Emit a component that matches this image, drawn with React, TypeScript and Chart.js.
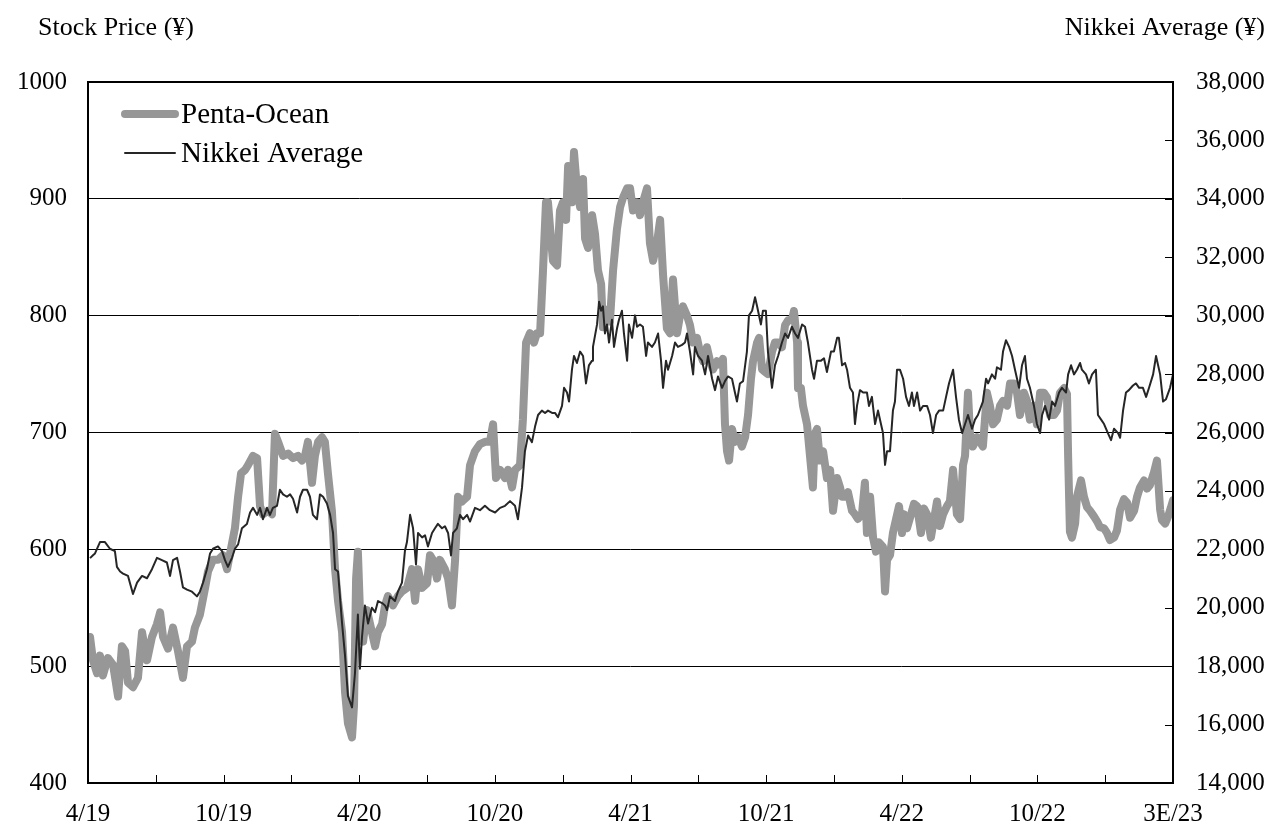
import { useEffect, useRef } from 'react';
import { Chart, registerables } from 'chart.js';

Chart.register(...registerables);

const FONT = "'Liberation Serif', 'Times New Roman', Times, serif";

// Axis / legend texts
const leftTitle = 'Stock Price (¥)';
const rightTitle = 'Nikkei Average (¥)';
const seriesNames = ['Penta-Ocean', 'Nikkei Average'];
// x tick labels every 6 months (months since 4/2019: 0, 6, ..., 48)
const xLabels = ['4/19', '10/19', '4/20', '10/20', '4/21', '10/21', '4/22', '10/22', '3E/23'];

// Penta-Ocean stock price: time in months since April 2019, price in yen
const pentaMonths = [
  0.09, 0.22, 0.40, 0.53, 0.66, 0.88, 1.11, 1.33, 1.50, 1.64,
  1.77, 1.99, 2.21, 2.39, 2.61, 2.83, 3.05, 3.19, 3.32, 3.54,
  3.76, 3.98, 4.20, 4.38, 4.60, 4.73, 4.95, 5.18, 5.31, 5.53,
  5.75, 5.97, 6.15, 6.37, 6.50, 6.64, 6.77, 6.95, 7.08, 7.30,
  7.48, 7.61, 7.74, 7.96, 8.14, 8.27, 8.41, 8.63, 8.85, 9.07,
  9.29, 9.47, 9.60, 9.73, 9.91, 10.04, 10.18, 10.35, 10.48, 10.62,
  10.79, 10.93, 11.06, 11.24, 11.37, 11.50, 11.68, 11.77, 11.86, 11.94,
  12.03, 12.17, 12.34, 12.48, 12.70, 12.83, 13.01, 13.14, 13.27, 13.49,
  13.71, 13.89, 14.11, 14.33, 14.47, 14.60, 14.78, 15.00, 15.13, 15.26,
  15.44, 15.57, 15.79, 15.93, 16.10, 16.24, 16.37, 16.55, 16.77, 16.90,
  17.12, 17.34, 17.56, 17.78, 17.92, 18.05, 18.23, 18.45, 18.58, 18.76,
  18.89, 19.11, 19.24, 19.38, 19.55, 19.73, 19.86, 20.00, 20.13, 20.26,
  20.35, 20.48, 20.57, 20.75, 20.88, 21.01, 21.15, 21.24, 21.41, 21.50,
  21.63, 21.77, 21.90, 21.99, 22.12, 22.30, 22.43, 22.56, 22.70, 22.78,
  22.96, 23.09, 23.23, 23.40, 23.54, 23.67, 23.85, 23.98, 24.11, 24.29,
  24.42, 24.55, 24.73, 24.86, 25.00, 25.17, 25.31, 25.44, 25.61, 25.75,
  25.88, 26.06, 26.19, 26.32, 26.50, 26.63, 26.77, 26.94, 27.07, 27.21,
  27.38, 27.52, 27.65, 27.83, 27.96, 28.09, 28.18, 28.27, 28.36, 28.49,
  28.62, 28.76, 28.93, 29.07, 29.20, 29.33, 29.42, 29.60, 29.69, 29.82,
  29.95, 30.08, 30.26, 30.39, 30.53, 30.70, 30.84, 30.97, 31.14, 31.23,
  31.37, 31.41, 31.54, 31.63, 31.81, 31.94, 32.07, 32.16, 32.25, 32.38,
  32.52, 32.69, 32.83, 32.96, 33.14, 33.27, 33.36, 33.49, 33.62, 33.80,
  33.93, 34.06, 34.24, 34.37, 34.46, 34.60, 34.73, 34.86, 34.99, 35.17,
  35.26, 35.35, 35.48, 35.61, 35.75, 35.88, 36.01, 36.10, 36.23, 36.41,
  36.54, 36.68, 36.85, 36.98, 37.12, 37.29, 37.43, 37.56, 37.69, 37.83,
  38.00, 38.13, 38.27, 38.44, 38.58, 38.71, 38.80, 38.93, 39.02, 39.15,
  39.33, 39.46, 39.59, 39.77, 39.90, 40.04, 40.21, 40.35, 40.48, 40.66,
  40.79, 40.97, 41.10, 41.23, 41.41, 41.54, 41.67, 41.85, 41.98, 42.12,
  42.29, 42.43, 42.56, 42.74, 42.87, 43.00, 43.18, 43.31, 43.36, 43.44,
  43.53, 43.67, 43.75, 43.93, 44.06, 44.20, 44.33, 44.51, 44.64, 44.77,
  44.95, 45.08, 45.21, 45.39, 45.52, 45.66, 45.83, 45.97, 46.10, 46.28,
  46.41, 46.54, 46.72, 46.85, 46.98, 47.16, 47.29, 47.43, 47.51, 47.65,
  47.78, 47.91, 48.00,
];
const pentaPrice = [
  525, 505, 494, 509, 492, 507, 501, 474, 517, 513,
  486, 482, 490, 529, 505, 525, 536, 546, 525, 515,
  533, 513, 490, 517, 521, 533, 544, 567, 581, 591,
  591, 595, 583, 605, 618, 645, 665, 668, 672, 680,
  678, 637, 630, 633, 630, 699, 692, 680, 682, 678,
  680, 676, 680, 692, 657, 680, 692, 696, 692, 664,
  633, 583, 556, 529, 478, 451, 439, 467, 575, 598,
  548, 521, 548, 536, 517, 529, 536, 552, 560, 552,
  560, 564, 567, 583, 556, 583, 567, 571, 595, 591,
  575, 591, 583, 575, 552, 591, 645, 641, 645, 672,
  684, 690, 692, 692, 707, 661, 668, 661, 668, 653,
  668, 672, 711, 777, 785, 777, 785, 785, 839, 897,
  897, 866, 847, 843, 890, 897, 882, 928, 897, 940,
  909, 893, 917, 866, 858, 886, 870, 839, 827, 790,
  805, 795, 839, 874, 893, 901, 909, 909, 890, 897,
  886, 897, 909, 862, 847, 862, 882, 835, 789, 785,
  831, 785, 800, 808, 800, 792, 777, 781, 769, 761,
  773, 761, 754, 761, 758, 763, 707, 684, 676, 703,
  692, 696, 688, 696, 715, 746, 761, 777, 781, 754,
  752, 750, 769, 777, 777, 773, 792, 796, 796, 804,
  777, 738, 738, 723, 707, 680, 653, 699, 703, 676,
  684, 661, 668, 633, 661, 653, 645, 645, 649, 633,
  630, 626, 630, 657, 614, 645, 610, 598, 606, 602,
  564, 591, 595, 614, 626, 637, 614, 630, 618, 630,
  639, 637, 614, 635, 630, 610, 626, 641, 620, 630,
  637, 641, 668, 630, 626, 672, 680, 734, 699, 688,
  696, 692, 688, 734, 723, 707, 711, 723, 727, 723,
  742, 742, 734, 715, 734, 727, 711, 723, 707, 734,
  734, 730, 715, 715, 719, 734, 738, 733, 680, 615,
  610, 622, 645, 659, 645, 636, 633, 628, 624, 619,
  618, 614, 608, 610, 616, 634, 643, 640, 627, 633,
  645, 653, 659, 652, 655, 666, 676, 634, 625, 622,
  628, 636, 642,
];

// Nikkei Average: time in months since April 2019, index in yen
const nikkeiMonths = [
  0.09, 0.22, 0.31, 0.53, 0.75, 0.97, 1.19, 1.28, 1.42, 1.55,
  1.77, 1.99, 2.17, 2.39, 2.61, 2.83, 3.05, 3.27, 3.49, 3.63,
  3.76, 3.94, 4.07, 4.20, 4.38, 4.60, 4.82, 4.95, 5.09, 5.26,
  5.40, 5.53, 5.75, 5.93, 6.06, 6.19, 6.37, 6.50, 6.64, 6.81,
  7.03, 7.17, 7.30, 7.48, 7.61, 7.74, 7.92, 8.05, 8.18, 8.36,
  8.49, 8.63, 8.80, 8.94, 9.07, 9.25, 9.38, 9.51, 9.69, 9.82,
  9.95, 10.13, 10.26, 10.40, 10.57, 10.71, 10.84, 10.93, 11.06, 11.24,
  11.37, 11.50, 11.68, 11.81, 11.94, 12.03, 12.12, 12.25, 12.39, 12.56,
  12.70, 12.83, 13.01, 13.14, 13.23, 13.36, 13.58, 13.71, 13.89, 14.02,
  14.11, 14.25, 14.38, 14.51, 14.60, 14.78, 14.91, 15.04, 15.22, 15.35,
  15.48, 15.66, 15.79, 15.93, 16.06, 16.15, 16.32, 16.46, 16.59, 16.77,
  16.90, 17.12, 17.34, 17.56, 17.78, 18.01, 18.23, 18.45, 18.67, 18.89,
  19.02, 19.20, 19.33, 19.47, 19.64, 19.78, 19.91, 20.08, 20.22, 20.35,
  20.53, 20.66, 20.79, 20.97, 21.06, 21.19, 21.28, 21.41, 21.50, 21.63,
  21.77, 21.90, 22.03, 22.16, 22.30, 22.34, 22.52, 22.61, 22.70, 22.78,
  22.87, 22.96, 23.05, 23.18, 23.27, 23.40, 23.49, 23.62, 23.71, 23.85,
  23.93, 24.07, 24.20, 24.29, 24.42, 24.55, 24.69, 24.77, 24.95, 25.08,
  25.22, 25.35, 25.44, 25.57, 25.66, 25.84, 25.97, 26.10, 26.28, 26.41,
  26.50, 26.63, 26.77, 26.85, 26.99, 27.16, 27.30, 27.43, 27.61, 27.74,
  27.87, 28.05, 28.18, 28.31, 28.49, 28.62, 28.71, 28.84, 28.98, 29.15,
  29.24, 29.38, 29.51, 29.60, 29.77, 29.86, 29.99, 30.08, 30.26, 30.39,
  30.53, 30.70, 30.84, 30.97, 31.14, 31.28, 31.41, 31.59, 31.72, 31.85,
  32.03, 32.12, 32.25, 32.43, 32.56, 32.69, 32.87, 33.00, 33.14, 33.22,
  33.36, 33.49, 33.58, 33.71, 33.84, 33.93, 34.02, 34.15, 34.29, 34.46,
  34.55, 34.68, 34.82, 34.95, 35.08, 35.17, 35.26, 35.35, 35.48, 35.61,
  35.70, 35.79, 35.92, 36.06, 36.19, 36.32, 36.45, 36.54, 36.68, 36.81,
  36.94, 37.12, 37.25, 37.38, 37.52, 37.65, 37.83, 37.96, 38.09, 38.27,
  38.40, 38.53, 38.67, 38.80, 38.93, 39.11, 39.24, 39.37, 39.59, 39.73,
  39.82, 39.99, 40.13, 40.21, 40.39, 40.48, 40.61, 40.75, 40.88, 41.01,
  41.19, 41.32, 41.45, 41.54, 41.67, 41.85, 41.98, 42.12, 42.21, 42.34,
  42.52, 42.65, 42.78, 42.96, 43.09, 43.27, 43.36, 43.49, 43.62, 43.75,
  43.89, 43.97, 44.15, 44.28, 44.42, 44.59, 44.68, 44.82, 44.95, 45.12,
  45.26, 45.39, 45.57, 45.66, 45.79, 45.92, 46.05, 46.23, 46.36, 46.50,
  46.67, 46.81, 46.94, 47.12, 47.25, 47.43, 47.56, 47.69, 47.87, 48.00,
];
const nikkeiValue = [
  21700, 21800, 21860, 22250, 22250, 22020, 21940, 21400, 21240, 21170,
  21090, 20470, 20860, 21090, 21010, 21320, 21710, 21630, 21550, 21090,
  21630, 21710, 21240, 20700, 20620, 20550, 20390, 20550, 20860, 21320,
  21860, 22020, 22100, 21940, 21630, 21400, 21710, 22020, 22170, 22720,
  22870, 23260, 23420, 23180, 23420, 23030, 23420, 23180, 23420, 23490,
  24040, 23880, 23800, 23880, 23730, 23260, 23800, 24040, 24040, 23800,
  23180, 23030, 23880, 23800, 23570, 23180, 22560, 21320, 21240, 19460,
  18370, 16980, 16590, 17750, 19770, 17910, 18990, 20080, 19460, 20000,
  19850, 20230, 20160, 20080, 19920, 20390, 20230, 20550, 20860, 21940,
  22250, 23180, 22720, 21480, 22560, 22410, 22480, 22100, 22560, 22720,
  22870, 22720, 22790, 22560, 21790, 22560, 22720, 23180, 23030, 23180,
  22950, 23420, 23340, 23490, 23340, 23260, 23420, 23490, 23650, 23490,
  23030, 24110, 25360, 25900, 25670, 26210, 26600, 26750, 26670, 26750,
  26670, 26670, 26520, 26910, 27530, 27370, 27060, 28150, 28620, 28380,
  28770, 28620, 27680, 28300, 28460, 28930, 29700, 30480, 30170, 30320,
  29390, 29700, 29080, 29860, 28930, 29550, 29860, 30170, 29390, 28460,
  29700, 29240, 30010, 29620, 29700, 29620, 28620, 29080, 28930, 29080,
  29390, 28460, 27530, 28460, 28150, 28620, 29080, 28930, 29000, 29080,
  29390, 28770, 27990, 28930, 28620, 28460, 27990, 28620, 27840, 27450,
  27920, 27530, 27760, 27920, 27840, 27370, 27060, 27680, 27760, 28770,
  30010, 30170, 30630, 30320, 29700, 30170, 30170, 28770, 27530, 28300,
  28620, 29080, 29390, 29240, 29620, 29390, 29240, 29700, 29620, 29080,
  28150, 27840, 28460, 28460, 28540, 28070, 28770, 28770, 29240, 29240,
  28300, 28380, 28150, 27530, 27370, 26290, 26910, 27450, 27370, 27370,
  26910, 27220, 26290, 26750, 26290, 25980, 24890, 25360, 25360, 26750,
  27060, 28150, 28150, 27840, 27220, 26910, 27370, 26910, 27370, 26750,
  26910, 26910, 26600, 25980, 26600, 26750, 26750, 27220, 27680, 28150,
  27220, 26440, 25980, 26290, 26600, 26130, 26440, 26600, 27060, 27840,
  27680, 27990, 27840, 28230, 28150, 28770, 29160, 28930, 28620, 28150,
  27530, 28300, 28620, 27840, 27530, 26910, 26290, 25980, 26600, 26910,
  26440, 27060, 26910, 27370, 27530, 27370, 27990, 28300, 27990, 28150,
  28380, 28150, 27990, 27680, 27990, 28150, 26600, 26440, 26290, 25980,
  25740, 26130, 25980, 25820, 26750, 27370, 27450, 27610, 27680, 27530,
  27530, 27220, 27530, 27990, 28620, 27990, 27060, 27140, 27530, 27990,
];

const PENTA_COLOR = '#979797';
const NIKKEI_COLOR = '#262626';

const decorPlugin = {
  id: 'decor',
  afterDatasetsDraw(chart: any) {
    const { ctx, chartArea, scales } = chart;
    const { left, top, right, bottom } = chartArea;
    ctx.save();
    // frame
    ctx.strokeStyle = '#000';
    ctx.lineWidth = 2;
    ctx.strokeRect(left, top, right - left, bottom - top);
    // inward x ticks
    ctx.lineWidth = 1;
    ctx.beginPath();
    scales.x.ticks.forEach((t: any) => {
      const px = Math.round(scales.x.getPixelForValue(t.value)) + 0.5;
      ctx.moveTo(px, bottom);
      ctx.lineTo(px, bottom - 8);
    });
    // inward right-axis ticks
    scales.y2.ticks.forEach((t: any) => {
      const py = Math.round(scales.y2.getPixelForValue(t.value)) + 0.5;
      ctx.moveTo(right, py);
      ctx.lineTo(right - 8, py);
    });
    ctx.stroke();

    // legend inside the plot area
    const ds = chart.data.datasets;
    const rows = [top + 32, top + 71];
    ctx.font = `29px ${FONT}`;
    ctx.fillStyle = '#000';
    ctx.textAlign = 'left';
    ctx.textBaseline = 'middle';
    rows.forEach((y: number, i: number) => {
      ctx.beginPath();
      ctx.strokeStyle = ds[i].borderColor;
      ctx.lineWidth = ds[i].borderWidth;
      ctx.lineCap = 'round';
      ctx.moveTo(left + 37, y);
      ctx.lineTo(left + 87, y);
      ctx.stroke();
      ctx.fillText(ds[i].label, left + 93, y + 1);
    });

    // axis titles
    ctx.font = `26px ${FONT}`;
    ctx.textAlign = 'left';
    ctx.fillText(leftTitle, 38, 28);
    ctx.textAlign = 'right';
    ctx.fillText(rightTitle, 1265, 28);
    ctx.restore();
  },
};

export default function App() {
  const ref = useRef<HTMLCanvasElement>(null);

  useEffect(() => {
    if (!ref.current) return;
    const tickFont = { family: FONT, size: 25 };
    const chart = new Chart(ref.current, {
      type: 'line',
      data: {
        datasets: [
          {
            label: seriesNames[0],
            data: pentaMonths.map((m, i) => ({ x: m, y: pentaPrice[i] })),
            yAxisID: 'y',
            borderColor: PENTA_COLOR,
            borderWidth: 8,
            borderJoinStyle: 'round',
            borderCapStyle: 'round',
            pointRadius: 0,
            tension: 0,
            order: 2,
          },
          {
            label: seriesNames[1],
            data: nikkeiMonths.map((m, i) => ({ x: m, y: nikkeiValue[i] })),
            yAxisID: 'y2',
            borderColor: NIKKEI_COLOR,
            borderWidth: 2,
            borderJoinStyle: 'round',
            pointRadius: 0,
            tension: 0,
            order: 1,
          },
        ],
      },
      options: {
        responsive: false,
        animation: false,
        devicePixelRatio: 1,
        layout: { padding: { top: 82, left: 0, right: 0, bottom: 0 } },
        plugins: {
          legend: { display: false },
          tooltip: { enabled: false },
        },
        scales: {
          x: {
            type: 'linear',
            min: 0,
            max: 48,
            grid: { display: false },
            border: { display: false },
            ticks: {
              stepSize: 3,
              autoSkip: false,
              maxRotation: 0,
              padding: 8,
              color: '#000',
              font: tickFont,
              callback: (v: any) => (v % 6 === 0 ? xLabels[v / 6] : ''),
            },
            afterFit: (s: any) => {
              s.height = 42;
            },
          },
          y: {
            position: 'left',
            min: 400,
            max: 1000,
            grid: { color: '#000', lineWidth: 1, drawTicks: false },
            border: { display: false },
            ticks: {
              stepSize: 100,
              padding: 21,
              color: '#000',
              font: tickFont,
              callback: (v: any) => String(v),
            },
            afterFit: (s: any) => {
              s.width = 88;
            },
          },
          y2: {
            position: 'right',
            min: 14000,
            max: 38000,
            grid: { display: false, drawTicks: false },
            border: { display: false },
            ticks: {
              stepSize: 2000,
              padding: 23,
              color: '#000',
              font: tickFont,
              callback: (v: any) => Number(v).toLocaleString('en-US'),
            },
            afterFit: (s: any) => {
              s.width = 98;
            },
          },
        },
      },
      plugins: [decorPlugin],
    });
    return () => chart.destroy();
  }, []);

  return (
    <div style={{ position: 'fixed', left: 0, top: 0, width: 1271, height: 825, background: '#fff' }}>
      <canvas ref={ref} width={1271} height={825} />
    </div>
  );
}
